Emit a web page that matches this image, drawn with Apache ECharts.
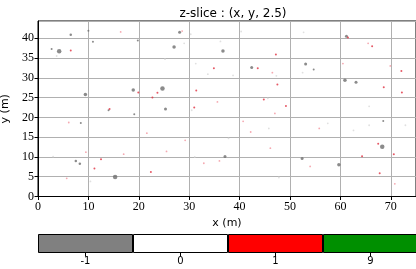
<!DOCTYPE html>
<html>
<head>
<meta charset="utf-8">
<script src="https://cdn.jsdelivr.net/npm/echarts@6/dist/echarts.min.js"></script>
<style>
html, body { margin: 0; padding: 0; background: #fff; }
#main { width: 416px; height: 269px; }
</style>
</head>
<body>
<div id="main"></div>
<script>
// points: [x, y, marker diameter]
var greyPts = [
    [4.2, 36.7, 4.5], [24.7, 27.3, 4.5], [15.3, 4.9, 4.5], [68.3, 12.6, 4.5], [36.7, 36.8, 3.5], [9.4, 25.8, 3.5],
    [18.9, 26.9, 3.5], [27, 37.8, 3.5], [28.1, 41.5, 3], [42.4, 32.6, 3], [53.1, 33.5, 3], [60.9, 29.4, 3.5],
    [63.1, 28.9, 3], [25.3, 22.1, 3], [37.1, 10.1, 3], [52.4, 9.6, 3], [59.7, 8, 3.5], [7.5, 9, 2.5],
    [8.3, 8.3, 2.5], [61.2, 40.5, 3], [6.5, 40.9, 2.5], [10, 41.9, 2], [10.9, 39.1, 2], [19.8, 39.4, 2],
    [2.7, 37.3, 2], [54.7, 32.1, 2], [14, 21.8, 2], [8.5, 18.6, 2], [68.5, 19.1, 2], [19.1, 20.8, 2]
];
var redPts = [
    [6.5, 36.9], [19.9, 26.3], [23.7, 26.2], [22.7, 25], [47.2, 35.9], [34.9, 32.4], [43.6, 32.4],
    [47.5, 28.3], [31.4, 26.8], [44.8, 24.5], [49.2, 22.9], [31, 22.5], [66.3, 38], [72.1, 31.7],
    [68.6, 27.6], [72.2, 26.3], [12.5, 9.4], [11.2, 7.1], [22.4, 6.2], [67.5, 13.3], [70.6, 10.7],
    [64.3, 10.2], [67.8, 5.9], [61.5, 40.2], [14.2, 22.1]
];
var pinkPts = [
    [16.4, 41.6], [46.5, 31.3], [35.6, 23.9], [65.5, 38.7], [60.5, 33.6], [69.9, 33], [6.1, 18.7],
    [21.6, 16], [9.5, 11.2], [17, 10.7], [5.7, 4.6], [47, 21], [40.7, 19], [42.2, 16.3], [29.2, 14.2],
    [25.5, 11.4], [36, 9], [32.9, 8.4], [46.1, 12.2], [55.8, 17.2], [54, 7.6], [70.8, 3.2], [28.6, 41.8]
];
var palePts = [
    [3.7, 35.5], [30.3, 41], [29, 38.7], [36.2, 39.2], [40.3, 41.7], [25.2, 34.7], [31.3, 33.6],
    [33.7, 30.9], [38.7, 30.6], [47.3, 30.5], [45.6, 24.8], [52.7, 41.5], [52.5, 31.3], [65.7, 22.8],
    [3, 10.1], [10.4, 3.8], [30.5, 21.8], [45.8, 17.2], [37.8, 14.7], [31.1, 10], [47.8, 4.8],
    [72.9, 18], [57.5, 18.5], [62.6, 16.7], [65.7, 18]
];
var cbLabels = ['-1', '0', '1', '9'];
var cbColors = ['#808080', '#ffffff', '#ff0000', '#008f00'];

var myChart = echarts.init(document.getElementById('main'));
var tickFont = 'Liberation Serif';
var sans = 'DejaVu Sans';
var option = {
    animation: false,
    backgroundColor: '#fff',
    title: {
        text: 'z-slice : (x, y, 2.5)',
        left: 228,
        textAlign: 'center',
        top: 3,
        textStyle: { fontFamily: sans, fontSize: 12, fontWeight: 'normal', color: '#000' }
    },
    grid: [
        { left: 38, top: 21, right: 0, bottom: 72.5, show: true, borderColor: '#000', borderWidth: 1,
          containLabel: false, outerBoundsMode: 'none' },
        { left: 38, top: 234, right: -2, height: 19, containLabel: false, outerBoundsMode: 'none' }
    ],
    xAxis: [{
        gridIndex: 0,
        type: 'value',
        min: 0, max: 75, interval: 10,
        name: 'x (m)', nameLocation: 'middle', nameGap: 18,
        nameTextStyle: { fontFamily: sans, fontSize: 11, color: '#000' },
        axisLine: { show: true, onZero: false, lineStyle: { color: '#000' } },
        axisTick: { show: true, length: 3.5, lineStyle: { color: '#000' } },
        axisLabel: { fontFamily: tickFont, fontSize: 12, color: '#000', margin: 4, showMaxLabel: false },
        splitLine: { show: true, lineStyle: { color: '#b0b0b0', width: 1 } }
    }, {
        gridIndex: 1,
        type: 'category',
        data: cbLabels,
        axisLine: { show: false },
        axisTick: { show: true, alignWithLabel: true, length: 3.5, lineStyle: { color: '#000' } },
        axisLabel: { fontFamily: sans, fontSize: 10, color: '#000', margin: 3 }
    }],
    yAxis: [{
        gridIndex: 0,
        type: 'value',
        min: 0, max: 44.35, interval: 5,
        name: 'y (m)', nameLocation: 'middle', nameGap: 21,
        nameTextStyle: { fontFamily: sans, fontSize: 11, color: '#000' },
        axisLine: { show: true, onZero: false, lineStyle: { color: '#000' } },
        axisTick: { show: true, length: 3.5, lineStyle: { color: '#000' } },
        axisLabel: { fontFamily: tickFont, fontSize: 12, color: '#000', margin: 4, showMaxLabel: false },
        splitLine: { show: true, lineStyle: { color: '#b0b0b0', width: 1 } }
    }, {
        gridIndex: 1,
        type: 'value',
        min: 0, max: 1,
        show: false
    }],
    series: [{
        type: 'scatter', xAxisIndex: 0, yAxisIndex: 0,
        data: palePts, symbolSize: 1.8,
        itemStyle: { color: '#d8d8d8', opacity: 0.8 }
    }, {
        type: 'scatter', xAxisIndex: 0, yAxisIndex: 0,
        data: pinkPts, symbolSize: 1.8,
        itemStyle: { color: '#f4a0a8', opacity: 0.9 }
    }, {
        type: 'scatter', xAxisIndex: 0, yAxisIndex: 0,
        data: greyPts,
        symbolSize: function(d) { return d[2]; },
        itemStyle: { color: '#6e6e6e' }
    }, {
        type: 'scatter', xAxisIndex: 0, yAxisIndex: 0,
        data: redPts, symbolSize: 2,
        itemStyle: { color: '#e03040' }
    }, {
        type: 'bar', xAxisIndex: 1, yAxisIndex: 1,
        barWidth: '100%',
        data: cbLabels.map(function(l, i) {
            return { value: 1, itemStyle: { color: cbColors[i] } };
        }),
        itemStyle: { borderColor: '#000', borderWidth: 1 }
    }]
};
myChart.setOption(option, true);
</script>
</body>
</html>
